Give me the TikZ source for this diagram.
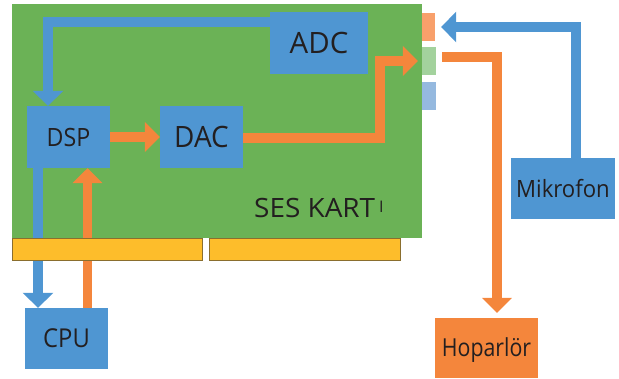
\documentclass[tikz,border=0pt]{standalone}
\usepackage{fontspec}
\setmainfont{Open Sans}
\usetikzlibrary{arrows.meta}
\definecolor{cblue}{HTML}{4F96D2}
\definecolor{cgreen}{HTML}{6BB256}
\definecolor{corange}{HTML}{F4863C}
\definecolor{cyellow}{HTML}{FDBD2B}
\definecolor{cyedge}{HTML}{8A6E2E}
\definecolor{jorange}{HTML}{F8A06B}
\definecolor{jgreen}{HTML}{A3D29D}
\definecolor{jblue}{HTML}{95B9DF}
\definecolor{ctext}{HTML}{231F20}
\tikzset{
  blk/.style={fill=cblue, draw=none, inner sep=0pt, text=ctext, align=center, text depth=0pt},
  jackbox/.style={draw=none, inner sep=0pt, minimum width=14pt, minimum height=28pt},
  slotbox/.style={fill=cyellow, draw=cyedge, line width=1pt},
  bl/.style={draw=cblue, line width=10pt, -{Triangle[width=30pt,length=15pt]}},
  orl/.style={draw=corange, line width=9.5pt, -{Triangle[width=29pt,length=15pt]}},
  fs/.style={font=\fontsize{#1}{#1}\selectfont}
}
\begin{document}
\begin{tikzpicture}[x=1pt,y=-1pt]
\useasboundingbox (0,0) rectangle (619,378);
% board
\node[fill=cgreen, inner sep=0pt, minimum width=410pt, minimum height=234pt] (board) at (217,121) {};
% jacks
\node[jackbox, fill=jorange, minimum width=13pt] (jack1) at (428.5,27) {};
\node[jackbox, fill=jgreen] (jack2) at (429,61) {};
\node[jackbox, fill=jblue] (jack3) at (429,96) {};
% boxes
\node[blk, minimum width=98pt, minimum height=62pt, fs=29.4, text height=21pt] (adc) at (319,43) {ADC};
\node[blk, minimum width=83pt, minimum height=62pt, fs=25.2, text height=18pt] (dsp) at (68.5,137) {\scalebox{0.92}[1]{DSP}};
\node[blk, minimum width=83pt, minimum height=62pt, fs=29.4, text height=21pt] (dac) at (201.5,137) {\scalebox{0.95}[1]{DAC}};
\node[blk, minimum width=83pt, minimum height=61pt, fs=26, text height=18.5pt] (cpu) at (66.5,338.5) {\scalebox{0.915}[1]{CPU}};
\node[blk, minimum width=104pt, minimum height=61pt, fs=23.8, text height=17pt] (mik) at (563,188.5) {\scalebox{0.93}[1]{Mikrofon}};
\node[blk, fill=corange, minimum width=103pt, minimum height=60pt, fs=24.8, text height=17.7pt] (hop) at (486.5,348) {\scalebox{0.86}[1]{Hoparlör}};
% label
\node[anchor=base west, inner sep=0pt, text=ctext, fs=26.6] (lbl) at (254,217) {\scalebox{1.05}[1]{SES KART}\hspace{4pt}\raisebox{5pt}{\fontsize{16}{16}\selectfont I}};
% connectors
\draw[bl] ([yshift=-10.5pt]adc.north west) -| ([xshift=-20.5pt]dsp.north);
\draw[orl] (dsp.east) -- (dac.west);
\draw[orl] ([yshift=-1pt]dac.east) -| ([xshift=-42pt]jack2.west) -- ([xshift=-4pt]jack2.west);
\draw[bl] ([xshift=12.5pt]mik.north) |- ([xshift=6pt]jack1.east);
\draw[orl] ([xshift=6pt,yshift=4pt]jack2.east) -| ([xshift=10.5pt,yshift=5pt]hop.north);
\draw[bl] ([xshift=-30.5pt]dsp.south) -- ([xshift=-28.5pt]cpu.north);
\draw[orl] ([xshift=21pt]cpu.north) -- ([xshift=21pt]cpu.north |- dsp.south);
% slots
\node[slotbox, inner sep=0pt, minimum width=190pt, minimum height=22pt] (slot1) at (107,249) {};
\node[slotbox, inner sep=0pt, minimum width=191pt, minimum height=22pt] (slot2) at (304.5,249) {};
\end{tikzpicture}
\end{document}
